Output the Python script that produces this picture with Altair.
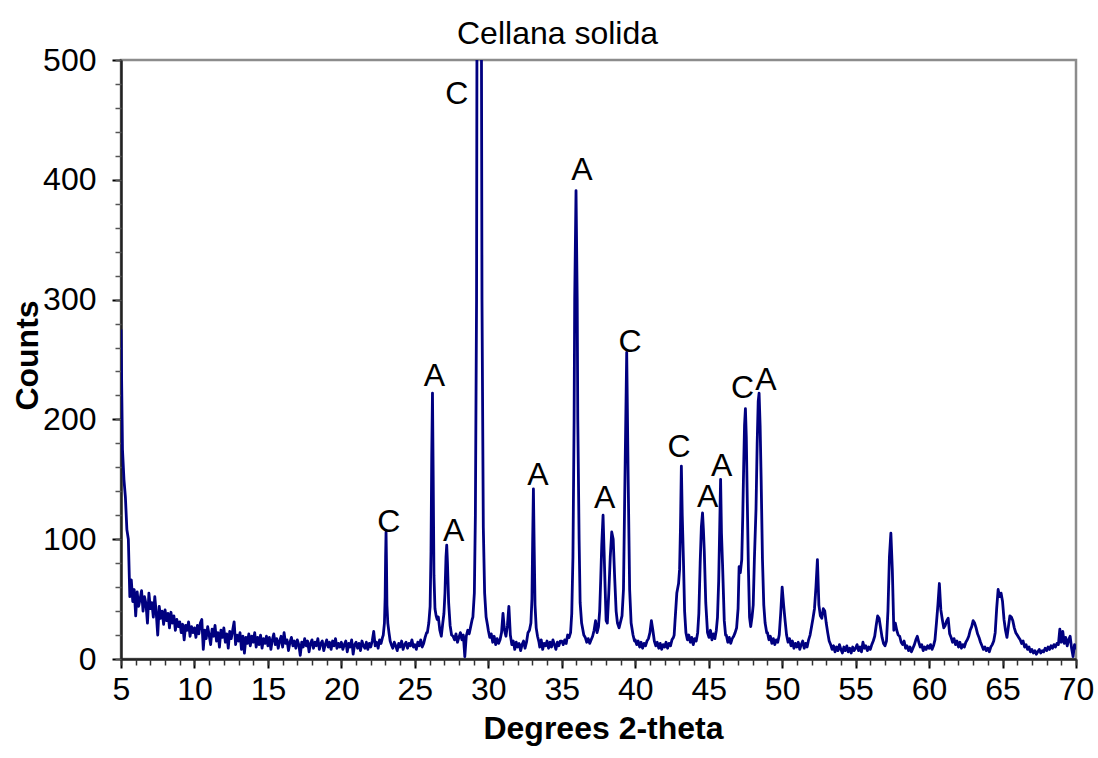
import altair as alt
import pandas as pd

FONT = "Liberation Sans"

# ---- step-scan counts on a 0.1 degree grid ----
counts_05_10 = [275, 175, 150, 135, 108, 100, 52, 66, 48, 58,
                36, 56, 44, 50, 57, 40, 52, 46, 30, 55,
                42, 47, 35, 52, 38, 20, 44, 34, 40, 29,
                41, 32, 38, 26, 39, 30, 36, 24, 33, 27,
                31, 22, 29, 16, 28, 24, 31, 19, 27, 22]
counts_10_15 = [26, 18, 28, 21, 30, 33, 8, 24, 17, 27,
                20, 12, 25, 19, 28, 15, 22, 10, 24, 18,
                26, 14, 21, 9, 23, 17, 24, 31, 12, 20,
                15, 22, 8, 19, 5, 18, 13, 21, 11, 19,
                14, 22, 10, 18, 12, 20, 9, 17, 13, 19]
counts_15_20 = [11, 18, 8, 16, 21, 12, 17, 9, 15, 19,
                10, 22, 13, 16, 7, 14, 18, 11, 15, 9,
                16, 12, 3, 14, 10, 17, 11, 15, 6, 13,
                16, 9, 14, 11, 17, 8, 13, 15, 7, 12,
                16, 10, 14, 8, 15, 11, 17, 9, 13, 10]
counts_20_25 = [14, 8, 12, 15, 6, 13, 10, 16, 4, 12,
                14, 9, 13, 7, 15, 11, 9, 14, 8, 13,
                10, 15, 23, 11, 14, 9, 16, 13, 18, 24,
                40, 60, 30, 16, 12, 9, 14, 11, 7, 13,
                10, 15, 8, 12, 14, 9, 13, 11, 16, 10]
counts_25_30 = [12, 8, 14, 11, 16, 10, 13, 18, 22, 25,
                40, 60, 200, 80, 40, 36, 35, 24, 19, 30,
                50, 90, 60, 30, 20, 18, 19, 16, 21, 14,
                18, 22, 16, 20, 2, 19, 24, 21, 27, 33,
                50, 150, 500, 500, 150, 60, 40, 30, 28, 26]
counts_30_35 = [24, 18, 21, 14, 19, 12, 17, 13, 16, 22,
                38, 24, 19, 28, 44, 20, 12, 15, 8, 14,
                10, 13, 7, 12, 15, 9, 14, 22, 30, 60,
                140, 50, 25, 18, 14, 10, 16, 8, 13, 11,
                15, 9, 14, 10, 16, 12, 8, 14, 11, 15]
counts_35_40 = [15, 12, 16, 13, 20, 18, 30, 80, 300, 380,
                300, 80, 30, 20, 18, 22, 18, 14, 17, 13,
                16, 19, 24, 32, 22, 27, 40, 66, 120, 90,
                30, 55, 85, 106, 100, 68, 40, 30, 26, 31,
                36, 58, 150, 256, 150, 58, 30, 20, 15, 12]
counts_40_45 = [16, 12, 15, 10, 14, 9, 13, 11, 15, 17,
                22, 32, 24, 15, 11, 14, 9, 13, 8, 12,
                10, 14, 9, 13, 11, 16, 18, 32, 55, 63,
                60, 161, 60, 30, 20, 16, 20, 14, 18, 12,
                17, 15, 22, 38, 80, 110, 122, 90, 47, 22]
counts_45_50 = [18, 24, 16, 21, 17, 24, 35, 110, 150, 80,
                32, 20, 20, 14, 18, 13, 17, 19, 22, 26,
                42, 80, 80, 130, 180, 209, 130, 50, 30, 40,
                80, 125, 190, 222, 195, 150, 83, 40, 28, 22,
                22, 16, 19, 13, 17, 12, 16, 14, 20, 38]
counts_50_55 = [60, 45, 32, 20, 14, 17, 11, 15, 9, 13,
                10, 14, 8, 12, 15, 9, 13, 10, 16, 20,
                27, 34, 42, 60, 83, 45, 36, 34, 42, 40,
                30, 22, 15, 12, 8, 11, 6, 10, 7, 12,
                8, 5, 10, 7, 11, 6, 9, 5, 10, 7]
counts_55_60 = [9, 12, 7, 10, 6, 14, 9, 11, 7, 10,
                8, 12, 15, 19, 28, 36, 34, 26, 18, 13,
                11, 15, 40, 85, 105, 74, 24, 30, 24, 20,
                19, 14, 12, 15, 9, 11, 7, 10, 6, 9,
                12, 16, 19, 14, 10, 12, 7, 10, 8, 11]
counts_60_65 = [9, 12, 8, 11, 16, 30, 45, 63, 41, 33,
                26, 28, 32, 34, 21, 18, 14, 17, 12, 15,
                10, 14, 9, 12, 10, 14, 16, 19, 24, 27,
                32, 30, 26, 21, 18, 14, 11, 8, 10, 7,
                9, 6, 10, 12, 15, 22, 42, 58, 52, 55]
counts_65_70 = [48, 33, 24, 18, 27, 36, 35, 32, 26, 22,
                20, 18, 16, 13, 15, 10, 12, 8, 10, 6,
                8, 5, 7, 4, 6, 8, 5, 7, 6, 9,
                7, 10, 8, 11, 9, 12, 10, 13, 12, 25,
                14, 23, 13, 18, 11, 16, 19, 9, 2, 12,
                8]

# ---- sharp reflections, read at finer spacing ----
peak_c23_x = [22.85, 22.93, 22.98, 23.01, 23.04, 23.07, 23.10, 23.16, 23.24, 23.32]
peak_c23_y = [20, 30, 52, 85, 106, 80, 45, 30, 22, 15]
peak_a26_x = [25.85, 25.95, 26.04, 26.10, 26.15, 26.20, 26.25, 26.30, 26.37, 26.45, 26.52]
peak_a26_y = [22, 30, 44, 90, 170, 222, 150, 70, 42, 36, 33]
peak_a27_x = [26.98, 27.05, 27.12, 27.17, 27.22, 27.30, 27.40, 27.50]
peak_a27_y = [38, 55, 85, 95, 80, 47, 28, 20]
peak_c29_x = [28.95, 29.05, 29.12, 29.20, 29.25, 29.38, 29.50, 29.57, 29.66, 29.75, 29.85, 29.95]
peak_c29_y = [35, 55, 120, 300, 700, 1500, 700, 300, 110, 55, 35, 28]
peak_a33_x = [32.80, 32.90, 32.97, 33.02, 33.07, 33.12, 33.18, 33.26, 33.35, 33.45]
peak_a33_y = [24, 30, 50, 100, 142, 95, 45, 26, 19, 14]
peak_a36_x = [35.60, 35.68, 35.76, 35.84, 35.88, 35.97, 36.05, 36.09, 36.18, 36.25, 36.35, 36.50]
peak_a36_y = [22, 38, 85, 200, 300, 391, 300, 200, 100, 47, 30, 20]
peak_38_x = [37.50, 37.58, 37.65, 37.72, 37.81, 37.88, 37.95, 38.02, 38.10, 38.20, 38.30,
             38.40, 38.50, 38.60, 38.70, 38.79, 38.90, 39.00, 39.10, 39.20, 39.30, 39.42,
             39.52, 39.62, 39.72, 39.85, 39.95]
peak_38_y = [27, 40, 66, 95, 120, 90, 60, 32, 30, 55, 85,
             106, 100, 68, 40, 30, 26, 31, 36, 58, 150, 256,
             150, 58, 30, 20, 15]
peak_44_x = [42.65, 42.71, 42.83, 42.95, 43.02, 43.08, 43.14, 43.20, 43.28, 43.36, 43.45,
             43.55, 43.65, 43.75, 43.85, 43.95, 44.05, 44.15, 44.25, 44.33, 44.42, 44.50,
             44.58, 44.64, 44.70, 44.80, 44.92, 45.02, 45.12, 45.22, 45.32, 45.42, 45.52,
             45.60, 45.68, 45.75, 45.81, 45.87, 45.94, 46.06, 46.15]
peak_44_y = [20, 32, 55, 63, 75, 110, 161, 120, 83, 40, 22,
             16, 20, 14, 18, 12, 17, 15, 22, 38, 80, 110,
             122, 108, 90, 47, 22, 18, 24, 16, 21, 17, 24,
             35, 65, 110, 150, 105, 80, 32, 20]
peak_48_x = [46.90, 47.00, 47.07, 47.15, 47.25, 47.32, 47.38, 47.44, 47.50, 47.56, 47.63,
             47.70, 47.78, 47.86, 47.95, 48.03, 48.11, 48.22, 48.30, 48.37, 48.43, 48.50,
             48.57, 48.66, 48.75, 48.84, 48.95]
peak_48_y = [26, 42, 77, 72, 83, 120, 160, 195, 209, 185, 130,
             77, 35, 27, 35, 45, 83, 125, 180, 215, 222, 195,
             150, 83, 45, 30, 22]

# ---- phase labels (C = calcite, A = aragonite) ----
label_theta = [23.22, 26.34, 27.65, 27.85, 33.37, 36.38, 37.92, 39.64, 42.98, 44.93, 45.89, 47.30, 48.90]
label_counts = [114, 236, 107, 472, 154, 408, 134, 265, 177, 135, 161, 226, 233]
label_text = ["C", "A", "A", "C", "A", "A", "A", "C", "C", "A", "A", "C", "A"]

# ---- assemble the pattern ----
grid_counts = (counts_05_10 + counts_10_15 + counts_15_20 + counts_20_25 + counts_25_30 +
               counts_30_35 + counts_35_40 + counts_40_45 + counts_45_50 + counts_50_55 +
               counts_55_60 + counts_60_65 + counts_65_70)
grid_theta = [round(5.0 + 0.1 * i, 1) for i in range(len(grid_counts))]

peaks = [(peak_c23_x, peak_c23_y), (peak_a26_x, peak_a26_y), (peak_a27_x, peak_a27_y),
         (peak_c29_x, peak_c29_y), (peak_a33_x, peak_a33_y), (peak_a36_x, peak_a36_y),
         (peak_38_x, peak_38_y), (peak_44_x, peak_44_y), (peak_48_x, peak_48_y)]
windows = [(min(px), max(px)) for px, _ in peaks]
points = [(t, c) for t, c in zip(grid_theta, grid_counts)
          if not any(lo <= t <= hi for lo, hi in windows)]
for px, py in peaks:
    points.extend(zip(px, py))
points.sort()
pattern = pd.DataFrame(points, columns=["theta", "counts"])
labels = pd.DataFrame({"theta": label_theta, "counts": label_counts, "phase": label_text})

x_scale = alt.Scale(domain=[5, 70], nice=False, zero=False)
y_scale = alt.Scale(domain=[0, 500], nice=False)

line = alt.Chart(pattern).mark_line(color="#000080", strokeWidth=2.8, clip=True,
                                    strokeJoin="round").encode(
    x=alt.X("theta:Q", scale=x_scale, axis=alt.Axis(
        orient="bottom", values=list(range(5, 71, 5)), title="Degrees 2-theta",
        tickSize=9, tickWidth=2, tickColor="black", domainColor="#222222", domainWidth=2.5,
        labelFont=FONT, labelFontSize=32, labelColor="black", labelPadding=6,
        labelFlush=False, labelOverlap=False,
        titleFont=FONT, titleFontSize=32, titleFontWeight="bold", titleColor="black",
        titleX=482, titleY=79, titleBaseline="alphabetic", titleAlign="center", grid=False)),
    y=alt.Y("counts:Q", scale=y_scale, axis=alt.Axis(
        orient="left", values=list(range(0, 501, 100)), title="Counts",
        tickSize=9, tickWidth=2, tickColor="black", domainColor="#222222", domainWidth=2.5,
        labelFont=FONT, labelFontSize=32, labelColor="black", labelPadding=16,
        labelFlush=False, labelOverlap=False, labelBaseline="middle",
        titleFont=FONT, titleFontSize=32, titleFontWeight="bold", titleColor="black",
        titleAngle=270, titleX=-94, titleY=295, titleBaseline="middle", titleAlign="center",
        grid=False)),
)

text = alt.Chart(labels).mark_text(font=FONT, fontSize=32, color="black",
                                   align="center", baseline="middle").encode(
    x=alt.X("theta:Q", scale=x_scale, axis=alt.Axis(
        orient="bottom", values=list(range(5, 71)), tickSize=6, tickWidth=1.5,
        tickColor="#333333", labels=False, domain=False, title=None, grid=False)),
    y=alt.Y("counts:Q", scale=y_scale, axis=alt.Axis(
        orient="left", values=list(range(0, 501, 20)), tickSize=6, tickWidth=1.5,
        tickColor="#555555", labels=False, domain=False, title=None, grid=False)),
    text="phase:N",
)

chart = alt.layer(line, text).resolve_axis(x="independent", y="independent").properties(
    width=955, height=599,
    padding={"left": 121, "top": 60, "right": 22, "bottom": 99},
    autosize=alt.AutoSizeParams(type="none"),
    title=alt.TitleParams("Cellana solida", font=FONT, fontSize=32, fontWeight="normal",
                          color="black", anchor="middle", dx=-41, dy=36, offset=4,
                          baseline="alphabetic"),
).configure_view(stroke="#8c8c8c", strokeWidth=2.5)

chart.save("out.html", embed_options={"renderer": "svg", "actions": False})
